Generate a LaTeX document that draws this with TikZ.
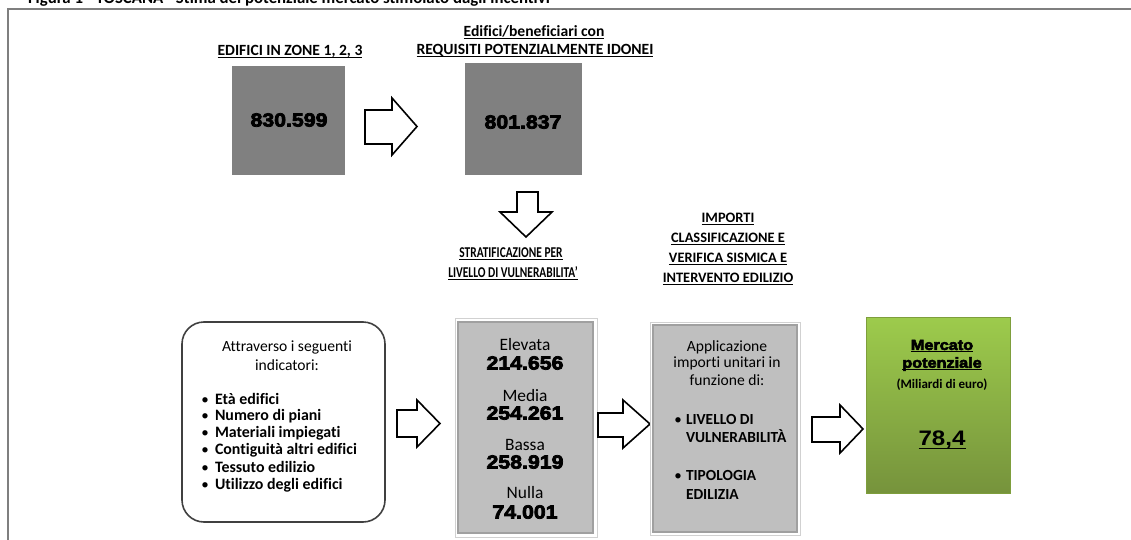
\documentclass[tikz,border=0pt]{standalone}
\usepackage{fontspec}
\setmainfont{Carlito}[Ligatures=NoCommon]
\newfontfamily\heavy{Liberation Sans}[UprightFont={* Bold}, FakeBold=4, FakeStretch=1.12]
\newfontfamily\arialb{Liberation Sans}[FakeStretch=1.15]
\newcommand\setfs[1]{\fontsize{#1}{#1}\selectfont}
\newcommand\myul[1]{\setbox0\hbox{#1}\rlap{\smash{\rule[-0.17em]{\wd0}{0.075em}}}\box0}
\definecolor{darkbox}{HTML}{808080}
\definecolor{lightbox}{HTML}{BFBFBF}
\definecolor{lightedge}{HTML}{A0A0A0}
\definecolor{boxline}{HTML}{404040}
\definecolor{frameline}{HTML}{7F7F7F}
\definecolor{greentop}{HTML}{9DCB4C}
\definecolor{greenbot}{HTML}{76933C}
\definecolor{greenedge}{HTML}{7E9E3C}
\begin{document}
\begin{tikzpicture}[x=1pt,y=-1pt,
  txt/.style={inner sep=0pt, outer sep=0pt},
  ttl/.style={txt, font=\bfseries\setfs{15.6}},
  ttls/.style={txt, font=\bfseries\setfs{14.4}},
  reg/.style={txt, font=\setfs{15.6}},
  bul/.style={txt, font=\bfseries\setfs{15.9}, anchor=mid west},
  dot/.style={txt, font=\setfs{15}, anchor=mid},
  num/.style={txt, font=\heavy\setfs{19}},
  strat/.style={txt, font=\setfs{17.4}},
  barrow/.style={draw=black, fill=white, line width=1.6pt, line join=miter},
  halo/.style={draw=black!18, fill=white, line width=0.8pt},
  lbox/.style={draw=lightedge, fill=lightbox, line width=1.5pt}
]
\useasboundingbox (0,0) rectangle (1131,540);
\clip (0,0) rectangle (1131,540);

% caption (cut at top)
\node[txt, anchor=base west, font=\bfseries\setfs{16.8}] (caption) at (28,4)
  {Figura 1 - TOSCANA - Stima del potenziale mercato stimolato dagli incentivi};

% frame
\draw[frameline, line width=2pt] (7,9) -- (1131,9);
\draw[frameline, line width=2pt] (8,9) -- (8,540);

% top row
\node[ttl] (t1) at (290,51) {\myul{EDIFICI IN ZONE 1, 2, 3}};
\node[fill=darkbox, minimum width=113, minimum height=109, inner sep=0] (b1) at (288.5,120.5) {};
\node[num] (n1) at (289,120) {830.599};

\node[ttl] (t2a) at (534,31) {\myul{Edifici/beneficiari con}};
\node[ttl] (t2b) at (535,50) {\myul{REQUISITI POTENZIALMENTE IDONEI}};
\node[fill=darkbox, minimum width=117, minimum height=112, inner sep=0] (b2) at (523.5,119) {};
\node[num] (n2) at (523,122) {801.837};

% arrow b1 -> b2
\draw[barrow] (365,110) -- (392,110) -- (392,98) -- (417,126.5) -- (392,155) -- (392,144) -- (365,144) -- cycle;
% arrow down
\draw[barrow] (517,192) -- (538,192) -- (538,212) -- (552,212) -- (526,237) -- (500,212) -- (517,212) -- cycle;

% titles bottom row
\node[txt, font=\bfseries\setfs{15}\addfontfeatures{FakeStretch=0.76}] (t3a) at (511,253) {\myul{STRATIFICAZIONE PER}};
\node[txt, font=\bfseries\setfs{15}\addfontfeatures{FakeStretch=0.76}] (t3b) at (513,272) {\myul{LIVELLO DI VULNERABILITA’}};

\node[ttls] (t4a) at (728,218) {\myul{IMPORTI}};
\node[ttls] (t4b) at (728,238) {\myul{CLASSIFICAZIONE E}};
\node[ttls] (t4c) at (728,258) {\myul{VERIFICA SISMICA E}};
\node[ttls] (t4d) at (728,278) {\myul{INTERVENTO EDILIZIO}};

% indicator box
\node[draw=boxline, line width=1.6pt, rounded corners=22, minimum width=203, minimum height=200, inner sep=0] (ind) at (283.5,422) {};
\node[reg] (i0a) at (287,347) {Attraverso i seguenti};
\node[reg] (i0b) at (287,365) {indicatori:};
\foreach \y/\t [count=\k] in {402/Età edifici, 418/Numero di piani, 435/Materiali impiegati, 452/Contiguità altri edifici, 470/Tessuto edilizio, 487/Utilizzo degli edifici}{
  \node[dot] (ib\k) at (205,\y) {•};
  \node[bul] (it\k) at (215,\y) {\t};
}

% arrow ind -> strat
\draw[barrow] (397,410) -- (417,410) -- (417,400) -- (440,423.5) -- (417,447) -- (417,437) -- (397,437) -- cycle;

% stratification box
\draw[halo] (455,318) rectangle (597,537);
\node[lbox, minimum width=135, minimum height=211, inner sep=0] (sb) at (525.5,427.5) {};
\node[strat] (s1) at (525,345) {Elevata};
\node[num] (s1n) at (525,363) {214.656};
\node[strat] (s2) at (525,396) {Media};
\node[num] (s2n) at (525,413) {254.261};
\node[strat] (s3) at (525,445) {Bassa};
\node[num] (s3n) at (525,462) {258.919};
\node[strat] (s4) at (525,493) {Nulla};
\node[num] (s4n) at (525,512) {74.001};

% arrow strat -> importi
\draw[barrow] (598,413) -- (623,413) -- (623,400) -- (650,424) -- (623,448) -- (623,437) -- (598,437) -- cycle;

% importi box
\draw[halo] (650,322) rectangle (800,535);
\node[lbox, minimum width=144, minimum height=207, inner sep=0] (ib) at (725,428.5) {};
\node[reg] (p1) at (727,347) {Applicazione};
\node[reg] (p2) at (727,363) {importi unitari in};
\node[reg] (p3) at (727,380) {funzione di:};
\node[dot] (pb1) at (678,422) {•};
\node[bul, font=\bfseries\setfs{15.4}] (pt1) at (686,422) {LIVELLO DI};
\node[bul, font=\bfseries\setfs{15.4}] (pt2) at (686,440) {VULNERABILITÀ};
\node[dot] (pb2) at (678,478) {•};
\node[bul, font=\bfseries\setfs{15.4}] (pt3) at (686,478) {TIPOLOGIA};
\node[bul, font=\bfseries\setfs{15.4}] (pt4) at (686,497) {EDILIZIA};

% arrow importi -> green
\draw[barrow] (812,417) -- (840,417) -- (840,405) -- (863,429) -- (840,453) -- (840,442) -- (812,442) -- cycle;

% green box
\node[top color=greentop, bottom color=greenbot, draw=greenedge, line width=1pt, minimum width=144, minimum height=176, inner sep=0] (gb) at (938,405) {};
\node[txt, font=\heavy\setfs{14.5}] (g1) at (942,345) {\myul{Mercato}};
\node[txt, font=\heavy\setfs{14.5}] (g2) at (942,364) {\myul{potenziale}};
\node[txt, font=\bfseries\setfs{13}] (g3) at (942,385) {(Miliardi di euro)};
\node[txt, font=\arialb\bfseries\setfs{21}] (g4) at (942,440) {\myul{78,4}};
\end{tikzpicture}
\end{document}
